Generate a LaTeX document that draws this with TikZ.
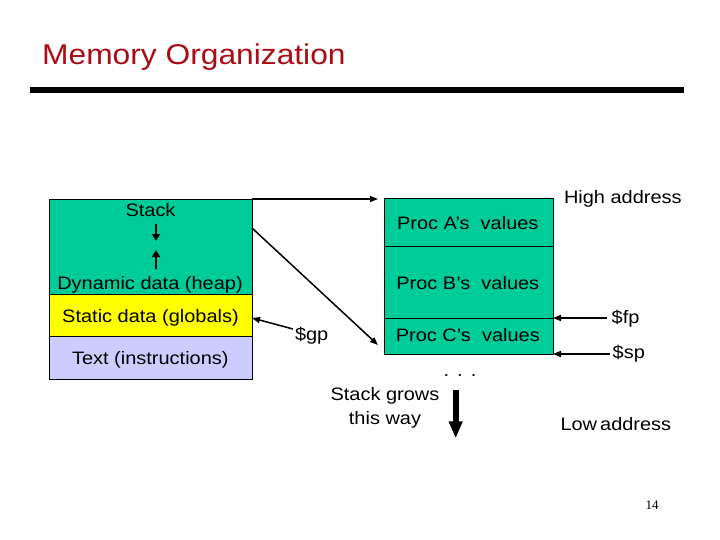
\documentclass[tikz,border=0pt]{standalone}
\usepackage{fontspec}
\setmainfont[FakeStretch=1.11]{Liberation Sans}
\newfontfamily\numfont{Liberation Serif}
\usetikzlibrary{arrows.meta}
\definecolor{memgreen}{RGB}{0,204,153}
\definecolor{memyellow}{RGB}{255,255,0}
\definecolor{memlav}{RGB}{204,204,255}
\definecolor{titlered}{RGB}{170,12,22}
\tikzset{
  box/.style={draw=black, line width=0.9pt, anchor=north west, inner sep=0pt, outer sep=0pt},
  lbl/.style={inner sep=0pt, outer sep=0pt, font=\fontsize{18}{21.6}\selectfont},
  conn/.style={line width=1.5pt, -{Triangle[length=8pt,width=6pt]}},
  smallarr/.style={line width=2.8pt, -{Triangle[length=7pt,width=8pt]}},
}
\begin{document}
\begin{tikzpicture}[x=1pt,y=-1pt]
\useasboundingbox (0,0) rectangle (720,540);
% title
\node[inner sep=0pt, anchor=base west, text=titlered, font=\fontsize{28.6}{33}\selectfont] (title) at (42,64.5) {Memory Organization};
\fill (30,87) rectangle (684,93.5);
% left memory layout
\node[box, fill=memgreen, minimum width=203pt, minimum height=95pt] (stk) at (49,199) {};
\node[box, fill=memyellow, minimum width=203pt, minimum height=42pt] (static) at (49,294) {};
\node[box, fill=memlav, minimum width=203pt, minimum height=43pt] (text) at (49,336) {};
\node[lbl, anchor=base] (stacklbl) at (150.5,217) {Stack};
\node[lbl, anchor=base] (heaplbl) at (150,289) {Dynamic data (heap)};
\node[lbl, anchor=base] (staticlbl) at (150.5,322.7) {Static data (globals)};
\node[lbl, anchor=base] (textlbl) at (150.3,364.3) {Text (instructions)};
\coordinate (sa1) at (156,224);
\coordinate (sa2) at (156,241);
\coordinate (sb1) at (156,269);
\coordinate (sb2) at (156,250);
\draw[smallarr] (sa1) -- (sa2);
\draw[smallarr] (sb1) -- (sb2);
% right stack frames
\node[box, fill=memgreen, minimum width=169pt, minimum height=48pt] (procA) at (384,198) {};
\node[box, fill=memgreen, minimum width=169pt, minimum height=72pt] (procB) at (384,246) {};
\node[box, fill=memgreen, minimum width=169pt, minimum height=36pt] (procC) at (384,318) {};
\node[lbl, anchor=base] (alb) at (467.8,229.3) {Proc A’s\ \ values};
\node[lbl, anchor=base] (blb) at (467.8,289.3) {Proc B’s\ \ values};
\node[lbl, anchor=base] (clb) at (467.8,341.7) {Proc C’s\ \ values};
\node[lbl, anchor=base west] (high) at (564,203.3) {High address};
\node[lbl, anchor=base west] (low) at (560.5,430) {Low\hspace{3pt}address};
\node[lbl, anchor=base west] (fp) at (611.7,323.3) {\$fp};
\node[lbl, anchor=base west] (sp) at (612.7,358.3) {\$sp};
\node[lbl, anchor=base west] (gp) at (295,340.7) {\$gp};
\node[lbl, anchor=base] (dots) at (460,376) {.\hspace{8pt}.\hspace{8pt}.};
\node[lbl, anchor=base] (grows1) at (385,400) {Stack grows};
\node[lbl, anchor=base] (grows2) at (385,424) {this way};
\node[inner sep=0pt, anchor=base, font=\numfont\fontsize{13}{15}\selectfont] (page) at (652,509) {14};
% connector end points
\coordinate (d1) at (252,228);
\coordinate (d2) at (378,345);
\path (stk.north east -| procA.west) ++(-6,0) coordinate (topend);
\path (gp.west |- static.east) ++(-2,14) coordinate (gpstart);
\path (static.east) ++(0,3) coordinate (gpend);
\path (fp.west |- procC.north east) ++(-5,0) coordinate (fpstart);
\path (sp.west |- procC.south east) ++(-3,0) coordinate (spstart);
% connectors
\draw[conn] (stk.north east) -- (topend);
\draw[conn] (d1) -- (d2);
\draw[conn] (gpstart) -- (gpend);
\draw[conn] (fpstart) -- (procC.north east);
\draw[conn] (spstart) -- (procC.south east);
% big arrow
\coordinate (g1) at (455.7,390);
\coordinate (g2) at (455.7,438.3);
\draw[line width=6pt, -{Triangle[length=17pt,width=13pt]}] (g1) -- (g2);
\end{tikzpicture}
\end{document}
